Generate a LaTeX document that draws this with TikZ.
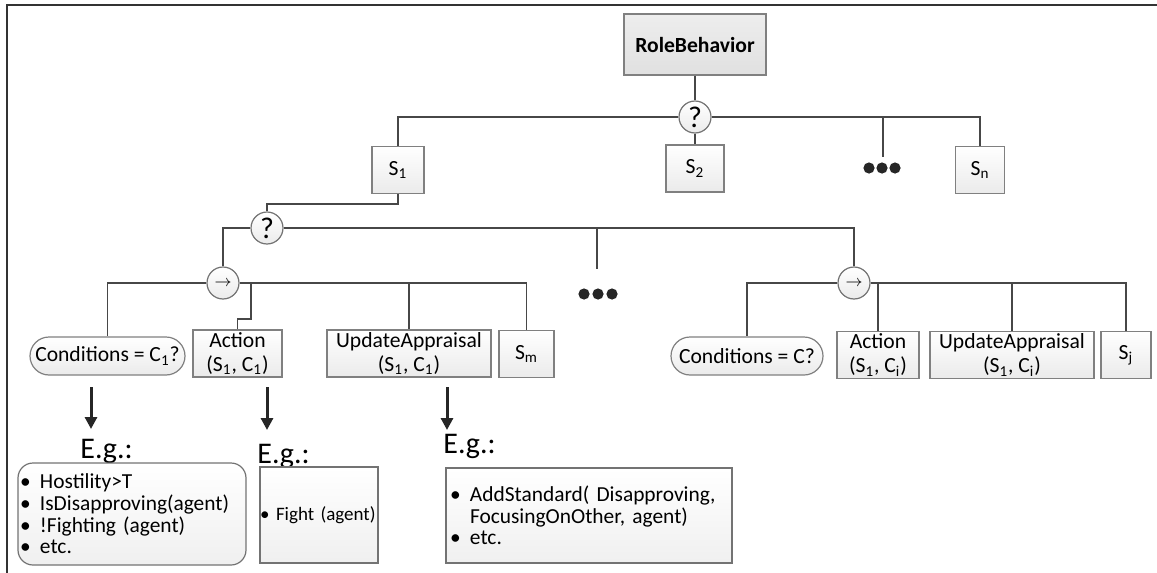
\documentclass[tikz,border=0pt]{standalone}
\usepackage{fontspec}
\setmainfont{Carlito}
\usepackage{tikz}
\usetikzlibrary{arrows.meta}
\tikzset{
	treeline/.style={draw=black!72, line width=0.7pt},
	frameline/.style={draw=black!80, line width=1pt},
	sbox/.style={draw=black!50, line width=0.6pt, top color=white, bottom color=black!8, minimum height=23.5pt, inner sep=1pt, align=center},
	rootbox/.style={sbox, top color=black!7, bottom color=black!12, minimum width=71pt, minimum height=30.5pt},
	condbox/.style={sbox, rounded corners=9.5pt, minimum height=19pt, inner xsep=2pt},
	opcirc/.style={circle, draw=black!55, line width=0.6pt, top color=white, bottom color=black!8, minimum size=16pt, inner sep=0pt},
	qmark/.style={font=\fontsize{15}{15}\selectfont},
	seqmark/.style={font=\fontsize{8}{8}\selectfont},
	bigarrow/.style={draw=black!85, line width=1.5pt, -{Triangle[width=6pt,length=6pt]}},
	eglabel/.style={font=\fontsize{15}{16}\selectfont, anchor=base west, inner sep=0pt},
	egbox/.style={draw=black!55, line width=0.6pt, top color=white, bottom color=black!6, align=left, inner ysep=1pt, font=\fontsize{10.7}{10.8}\selectfont},
	dotfill/.style={fill=black!85}
}
\newcommand{\itm}{\makebox[10pt][l]{\textbullet}}

\begin{document}
\begin{tikzpicture}[x=0.5pt, y=-0.5pt, font=\fontsize{10.8}{12}\selectfont]
	\useasboundingbox (0,0) rectangle (1157,573);
	\draw[frameline] (7,573) -- (7,5) -- (1157,5);

	% top level
	\node[rootbox] (role) at (695,44.5) {\textbf{RoleBehavior}};
	\node[opcirc, qmark] (q1) at (695,117) {?};
	\node[sbox, minimum width=26pt] (s1) at (398,170) {S\textsubscript{1}};
	\node[sbox, minimum width=29pt] (s2) at (695,168.5) {S\textsubscript{2}};
	\node[sbox, minimum width=24.5pt] (sn) at (980,170) {S\textsubscript{n}};
	\coordinate (dotsA) at (883,157);
	\foreach \x in {869,882,895} \fill[dotfill] (\x,168) circle (2.8pt);

	\draw[treeline] (role) -- (q1);
	\draw[treeline] (q1) -- (s2);
	\draw[treeline] (q1.west) -| (s1.north);
	\draw[treeline] (q1.east) -| (sn.north);
	\draw[treeline] (dotsA |- q1) -- (dotsA);

	% second level
	\node[opcirc, qmark] (q2) at (267,228) {?};
	\node[opcirc, seqmark] (seq1) at (223,283) {$\rightarrow$};
	\node[opcirc, seqmark] (seq2) at (854,283) {$\rightarrow$};
	\coordinate (dotsB) at (597,269);
	\foreach \x in {584,598,612} \fill[dotfill] (\x,294) circle (2.8pt);

	\draw[treeline] (s1.south) -- ++(0,10) -| (q2.north);
	\draw[treeline] (q2.west) -| (seq1.north);
	\draw[treeline] (q2.east) -| (seq2.north);
	\draw[treeline] (dotsB |- q2) -- (dotsB);

	% first sequence
	\node[condbox, minimum width=77.5pt] (cond1) at (107.5,356) {Conditions = C\textsubscript{1}?};
	\node[sbox, minimum width=44.5pt] (act1) at (237.5,353.5) {Action\\(S\textsubscript{1}, C\textsubscript{1})};
	\node[sbox, minimum width=82pt] (upd1) at (409,353.5) {UpdateAppraisal\\(S\textsubscript{1}, C\textsubscript{1})};
	\node[sbox, minimum width=27.5pt] (sm) at (526.5,354) {S\textsubscript{m}};
	\coordinate (jog) at (251,319);

	\draw[treeline] (seq1.west) -| (cond1.north);
	\draw[treeline] (seq1.east) -| (sm.north);
	\draw[treeline] (jog |- seq1) -- (jog) -| (act1.north);
	\draw[treeline] (upd1.north |- seq1) -- (upd1.north);

	% last sequence
	\node[condbox, minimum width=76pt] (cond2) at (747,356) {Conditions = C?};
	\node[sbox, minimum width=41pt] (act2) at (878,355) {Action\\(S\textsubscript{1}, C\textsubscript{i})};
	\node[sbox, minimum width=82pt] (upd2) at (1012,355) {UpdateAppraisal\\(S\textsubscript{1}, C\textsubscript{i})};
	\node[sbox, minimum width=25pt] (sj) at (1126,355) {S\textsubscript{j}};

	\draw[treeline] (seq2.west) -| (cond2.north);
	\draw[treeline] (seq2.east) -| (sj.north);
	\draw[treeline] (act2.north |- seq2) -- (act2.north);
	\draw[treeline] (upd2.north |- seq2) -- (upd2.north);

	% examples
	\coordinate (arrA) at (91,387);
	\coordinate (arrB) at (267,387);
	\coordinate (arrC) at (447,387);
	\draw[bigarrow] (arrA) -- ++(0,42);
	\draw[bigarrow] (arrB) -- ++(0,43);
	\draw[bigarrow] (arrC) -- ++(0,43);

	\node[eglabel] (egA) at (80,458) {E.g.:};
	\node[eglabel] (egB) at (257,463) {E.g.:};
	\node[eglabel] (egC) at (443,453) {E.g.:};

	\node[egbox, rounded corners=7.5pt, text width=112pt, inner xsep=1pt, minimum height=51pt] (exA) at (132,514)
		{\itm Hostility>T\\ \itm IsDisapproving(agent)\\ \itm !Fighting (agent)\\ \itm etc.};
	\node[egbox, text width=59pt, inner xsep=0pt, minimum height=48pt, font=\fontsize{9.5}{10}\selectfont] (exB) at (319,515)
		{\mbox{\makebox[8pt][l]{\textbullet}Fight (agent)}};
	\node[egbox, text width=139pt, inner xsep=2pt, minimum height=47.5pt] (exC) at (589,515.5)
		{\itm AddStandard( Disapproving,\\ \hspace*{10pt}FocusingOnOther, agent)\\ \itm etc.};
\end{tikzpicture}
\end{document}
